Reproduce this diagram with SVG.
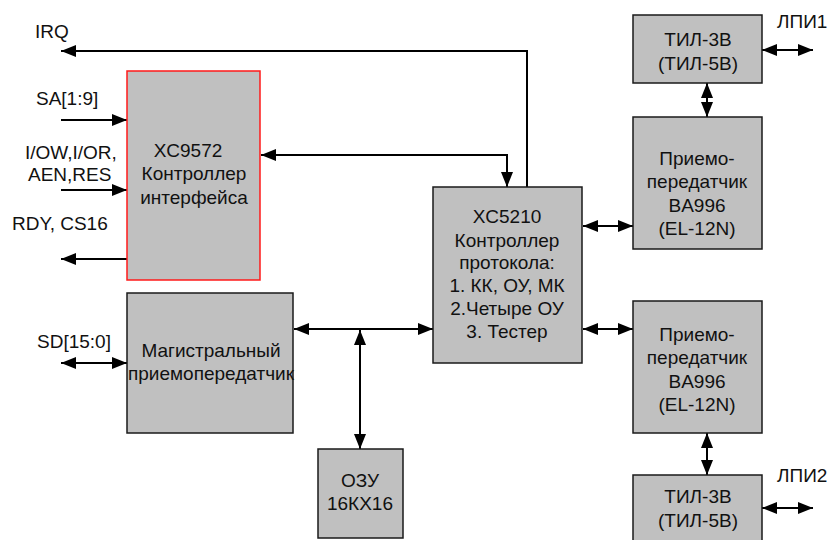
<svg xmlns="http://www.w3.org/2000/svg" width="831" height="540" viewBox="0 0 831 540">
<style>
.box{fill:#c0c0c0;stroke:#1a1a1a;stroke-width:1.5}
.red{fill:#c0c0c0;stroke:#ff1a1a;stroke-width:1.5}
text{font-family:"Liberation Sans",Arial,sans-serif;font-size:19px;fill:#111}
.c{text-anchor:middle}
.ln{fill:none;stroke:#000;stroke-width:2}
</style>
<defs>
<marker id="a" viewBox="0 0 15 12" refX="15" refY="6" markerWidth="15" markerHeight="12" markerUnits="userSpaceOnUse" orient="auto-start-reverse">
<path d="M0,0 L15,6 L0,12 z" fill="#000"/>
</marker>
</defs>
<rect width="831" height="540" fill="#fff"/>
<g id="connectors">
<path class="ln" d="M527,187 V51 H61" marker-end="url(#a)"/>
<path class="ln" d="M261,155 H507 V187" marker-start="url(#a)" marker-end="url(#a)"/>
<path class="ln" d="M61,120 H127" marker-end="url(#a)"/>
<path class="ln" d="M61,190 H127" marker-end="url(#a)"/>
<path class="ln" d="M127,259 H61" marker-end="url(#a)"/>
<path class="ln" d="M61,363 H127" marker-start="url(#a)" marker-end="url(#a)"/>
<path class="ln" d="M294,329 H433" marker-start="url(#a)" marker-end="url(#a)"/>
<path class="ln" d="M360,330 V449" marker-start="url(#a)" marker-end="url(#a)"/>
<path class="ln" d="M583,226 H633" marker-start="url(#a)" marker-end="url(#a)"/>
<path class="ln" d="M583,329 H633" marker-start="url(#a)" marker-end="url(#a)"/>
<path class="ln" d="M707,83 V117" marker-start="url(#a)" marker-end="url(#a)"/>
<path class="ln" d="M762,50 H813" marker-start="url(#a)" marker-end="url(#a)"/>
<path class="ln" d="M707,433 V475" marker-start="url(#a)" marker-end="url(#a)"/>
<path class="ln" d="M762,508 H813" marker-start="url(#a)" marker-end="url(#a)"/>
</g>
<g id="labels">
<text x="35" y="38">IRQ</text>
<text x="36" y="105">SA[1:9]</text>
<text x="25" y="159">I/OW,I/OR,</text>
<text x="28" y="181">AEN,RES</text>
<text x="12" y="230">RDY, CS16</text>
<text x="37" y="348">SD[15:0]</text>
<text x="777" y="28">ЛПИ1</text>
<text x="777" y="482">ЛПИ2</text>
</g>
<g id="xc9572">
<rect class="red" x="127" y="71" width="133" height="209"/>
<text class="c" x="188" y="157">XC9572</text>
<text class="c" x="194" y="180">Контроллер</text>
<text class="c" x="194" y="204">интерфейса</text>
</g>
<g id="mag">
<rect class="box" x="127" y="293" width="166" height="140"/>
<text class="c" x="211" y="357">Магистральный</text>
<text class="c" x="211" y="380">приемопередатчик</text>
</g>
<g id="ozu">
<rect class="box" x="318" y="449" width="85" height="89"/>
<text class="c" x="360" y="487">ОЗУ</text>
<text class="c" x="360" y="510">16КХ16</text>
</g>
<g id="xc5210">
<rect class="box" x="433" y="187" width="149" height="176"/>
<text class="c" x="507" y="223">XC5210</text>
<text class="c" x="507" y="247">Контроллер</text>
<text class="c" x="507" y="269">протокола:</text>
<text class="c" x="507" y="292">1. КК, ОУ, МК</text>
<text class="c" x="507" y="315">2.Четыре ОУ</text>
<text class="c" x="507" y="338">3. Тестер</text>
</g>
<g id="til1">
<rect class="box" x="633" y="15" width="129" height="68"/>
<text class="c" x="698" y="46">ТИЛ-3В</text>
<text class="c" x="698" y="70">(ТИЛ-5В)</text>
</g>
<g id="priemo1">
<rect class="box" x="633" y="117" width="129" height="132"/>
<text class="c" x="697" y="165">Приемо-</text>
<text class="c" x="697" y="188">передатчик</text>
<text class="c" x="697" y="212">BA996</text>
<text class="c" x="697" y="235">(EL-12N)</text>
</g>
<g id="priemo2">
<rect class="box" x="633" y="301" width="129" height="132"/>
<text class="c" x="697" y="341">Приемо-</text>
<text class="c" x="697" y="364">передатчик</text>
<text class="c" x="697" y="388">BA996</text>
<text class="c" x="697" y="411">(EL-12N)</text>
</g>
<g id="til2">
<rect class="box" x="633" y="475" width="129" height="75"/>
<text class="c" x="698" y="503">ТИЛ-3В</text>
<text class="c" x="698" y="527">(ТИЛ-5В)</text>
</g>
</svg>
